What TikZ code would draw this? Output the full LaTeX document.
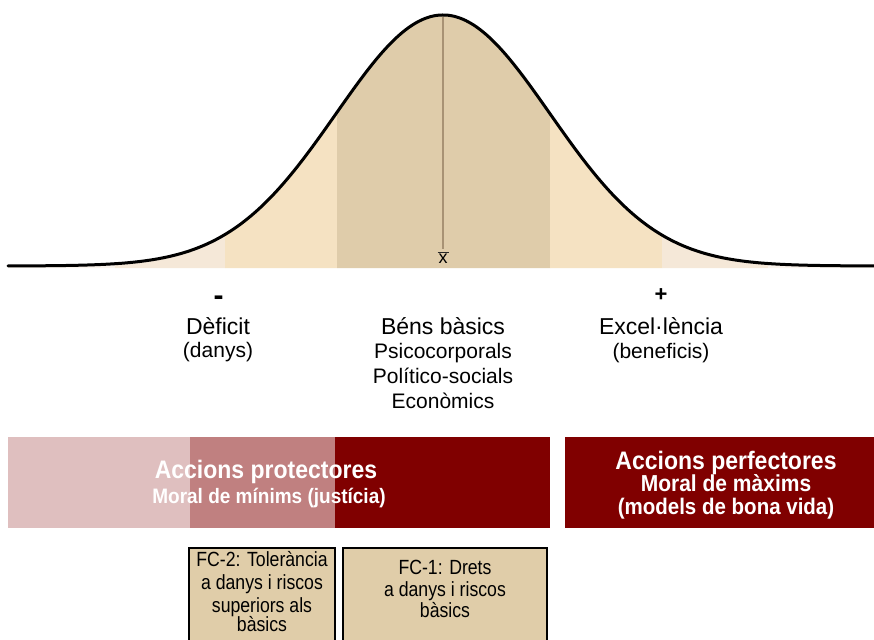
\documentclass[tikz,border=0pt]{standalone}
\usepackage{fontspec}
\setmainfont{Liberation Sans}
\newfontfamily\fcf[FakeStretch=0.93]{Liberation Sans}
\definecolor{tailvp}{HTML}{FAF3EC}
\definecolor{tailp}{HTML}{F5E8D8}
\definecolor{bandl}{HTML}{F5E2C2}
\definecolor{bandd}{HTML}{DFCCAA}
\definecolor{meanc}{HTML}{A89274}
\definecolor{pinkl}{HTML}{DFBFBF}
\definecolor{pinkm}{HTML}{C08080}
\definecolor{maroon}{HTML}{800000}
\definecolor{fcfill}{HTML}{E0CDA9}
\newcommand{\gaussy}[1]{266-251*exp(-(((#1)-443)/107)^2/2)}
\newcommand{\band}[3]{\fill[#3] (#1,268) -- plot[domain=#1:#2,samples=60] (\x,{\gaussy{\x}}) -- (#2,268) -- cycle;}
\tikzset{
  big/.style={font=\fontsize{23}{25}\selectfont, anchor=base, inner sep=0pt},
  mid/.style={font=\fontsize{21}{23}\selectfont, anchor=base, inner sep=0pt},
  sign/.style={font=\bfseries\fontsize{#1}{#1}\selectfont, anchor=base, inner sep=0pt},
  boldA/.style={font=\bfseries\fontsize{23}{25}\selectfont, text=white, anchor=base, inner sep=0pt, yscale=1.1, transform shape},
  boldB/.style={font=\bfseries\fontsize{#1}{#1}\selectfont, text=white, anchor=base, inner sep=0pt, yscale=1.1, transform shape},
  fctext/.style={font=\fcf\fontsize{19}{21}\selectfont, anchor=base, inner sep=0pt, yscale=1.08, transform shape},
  fcbox/.style={draw=black, line width=2pt, fill=fcfill},
}
\begin{document}
\begin{tikzpicture}[x=1pt,y=-1pt]
\clip (0,0) rectangle (874,639);
\fill[white] (0,0) rectangle (874,639);
% bands under curve
\band{8}{115}{tailvp}
\band{115}{225}{tailp}
\band{225}{337}{bandl}
\band{337}{550}{bandd}
\band{550}{662}{bandl}
\band{662}{768}{tailp}
\band{768}{874}{tailvp}
% mean line
\coordinate (peak) at (443,17);
\node[font=\fontsize{18}{18}\selectfont, anchor=base, inner sep=0pt] (xbar) at (443,263.5) {x};
\coordinate (meanend) at (443,249);
\draw[meanc, line width=1.3pt] (peak) -- (meanend);
\draw[black!85, line width=1.2pt] (437.5,252.5) -- (448.5,252.5);
% curve
\draw[black, line width=3pt, line cap=round] plot[domain=8:874,samples=300] (\x,{\gaussy{\x}});
% labels
\node[sign=30] (minus) at (218.5,305) {-};
\node[big] (def) at (218,334) {Dèficit};
\node[mid] (danys) at (218,357) {(danys)};
\node[big] (bens) at (443,334) {Béns bàsics};
\node[mid] (psi) at (443,358) {Psicocorporals};
\node[mid] (pol) at (443,383) {Político-socials};
\node[mid] (eco) at (443,408) {Econòmics};
\node[sign=22] (plus) at (661,301) {+};
\node[big] (exc) at (661,334) {Excel·lència};
\node[mid] (ben) at (661,358) {(beneficis)};
% bars
\fill[pinkl] (8,437) rectangle (190,528);
\fill[pinkm] (190,437) rectangle (335,528);
\fill[maroon] (335,437) rectangle (550,528);
\fill[maroon] (565,437) rectangle (874,528);
\node[boldA] (ap) at (266,478) {Accions protectores};
\node[boldB=19] (mm) at (269,503) {Moral de mínims (justícia)};
\node[boldA] (apf) at (726,469) {Accions perfectores};
\node[boldB=21] (mx) at (726,491) {Moral de màxims};
\node[boldB=20.5] (bv) at (726,514) {(models de bona vida)};
% FC boxes
\draw[fcbox] (189,548) rectangle (335,650);
\draw[fcbox] (343,548) rectangle (547,650);
\node[fctext] (fc2a) at (262,566) {FC-2: Tolerància};
\node[fctext] (fc2b) at (262,589) {a danys i riscos};
\node[fctext] (fc2c) at (262,612) {superiors als};
\node[fctext] (fc2d) at (262,631) {bàsics};
\node[fctext] (fc1a) at (445,574) {FC-1: Drets};
\node[fctext] (fc1b) at (445,596) {a danys i riscos};
\node[fctext] (fc1c) at (445,617) {bàsics};
\end{tikzpicture}
\end{document}
